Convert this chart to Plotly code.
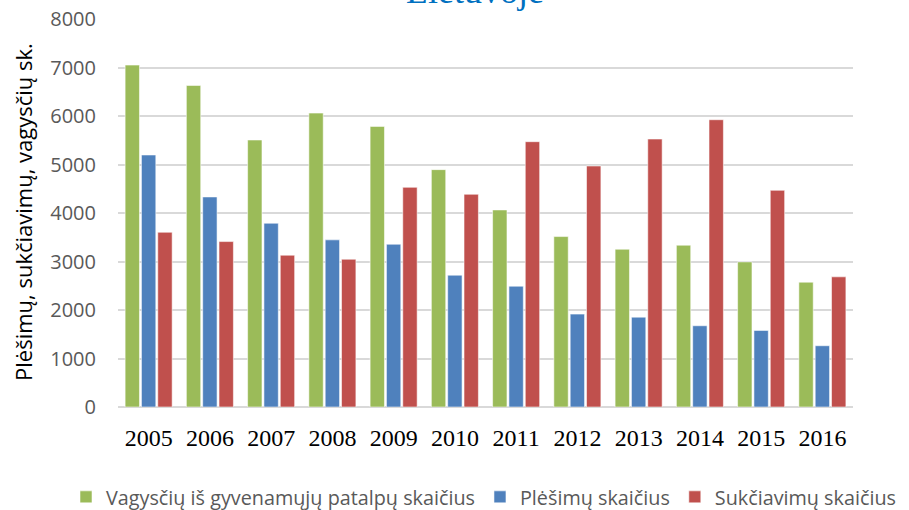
import plotly.graph_objects as go

years = ["2005", "2006", "2007", "2008", "2009", "2010", "2011", "2012", "2013", "2014", "2015", "2016"]
vagystes = [7050, 6630, 5505, 6060, 5786, 4894, 4063, 3514, 3253, 3336, 2992, 2574]
plesimai = [5196, 4331, 3789, 3446, 3356, 2718, 2491, 1915, 1853, 1675, 1579, 1263]
sukciavimai = [3603, 3411, 3130, 3047, 4530, 4386, 5470, 4969, 5525, 5923, 4468, 2684]
series_names = ["Vagysčių iš gyvenamųjų patalpų skaičius", "Plėšimų skaičius", "Sukčiavimų skaičius"]
colors = ["#9BBB59", "#4F81BD", "#C0504D"]

fig = go.Figure()
for name, vals, c in zip(series_names, [vagystes, plesimai, sukciavimai], colors):
    fig.add_trace(go.Bar(x=years, y=vals, name=name, marker=dict(color=c, line=dict(color="rgba(255,255,255,0.55)", width=1))))

W, H = 909, 510
L, R, T, B = 118, 56, 19, 103
pw, ph = W - L - R, H - T - B

fig.update_layout(
    width=W, height=H,
    margin=dict(l=L, r=R, t=T, b=B, autoexpand=False),
    paper_bgcolor="white", plot_bgcolor="white",
    barmode="group", bargap=0.2, bargroupgap=0.12,
    showlegend=True,
    legend=dict(orientation="h", x=(66 - L) / pw, xanchor="left", y=(ph + T - 497) / ph, yanchor="middle",
                font=dict(family="Open Sans", size=19.8, color="#595959"), itemwidth=30, traceorder="normal"),
    xaxis=dict(tickfont=dict(family="Liberation Serif", size=24, color="black"), showgrid=False,
               showline=False, ticks="", ticklabelstandoff=14),
    yaxis=dict(range=[0, 8000], dtick=1000, tickfont=dict(family="Open Sans", size=20, color="#595959"),
               gridcolor="#D9D9D9", gridwidth=1.5, zeroline=True, zerolinecolor="#D9D9D9", zerolinewidth=1.5,
               showline=False, ticks="", ticklabelstandoff=21),
    annotations=[
        dict(text="Lietuvoje", xref="paper", yref="paper", x=(475 - L) / pw, y=1 + (T - 13) / ph,
             xanchor="center", yanchor="bottom", showarrow=False,
             font=dict(family="Liberation Serif", size=36, color="#0070C0")),
        dict(text="Plėšimų, sukčiavimų, vagysčių sk.", xref="paper", yref="paper",
             x=(23 - L) / pw, y=(ph + T - 212) / ph, xanchor="center", yanchor="middle",
             textangle=-90, showarrow=False, font=dict(family="Open Sans", size=22, color="black")),
    ],
)
fig.write_html("out.html", config={"displayModeBar": False}, post_script="document.body.style.margin='0';")
